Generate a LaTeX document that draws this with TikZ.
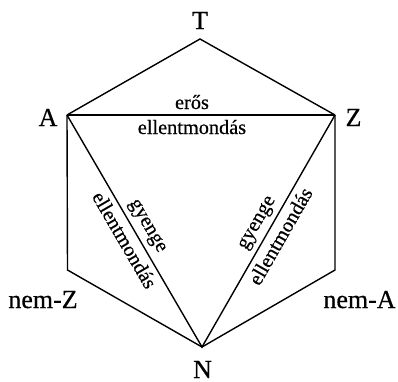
\documentclass[tikz,border=0pt]{standalone}
\usepackage{fontspec}
\setmainfont{Liberation Serif}[FakeBold=0.5]
\begin{document}
\begin{tikzpicture}[x=1pt,y=-1pt,
  edge/.style={line width=1.4pt, line join=miter},
  vlabel/.style={anchor=base, inner sep=0pt, font=\fontsize{26}{28}\selectfont},
  elabel/.style={anchor=base, inner sep=0pt, font=\fontsize{20.3}{22}\selectfont}]
\useasboundingbox (0,0) rectangle (398,381);
% vertices
\coordinate (vT) at (200,39);
\coordinate (vA) at (67,115);
\coordinate (vZ) at (335,115);
\coordinate (vnZ) at (67.5,270);
\coordinate (vnA) at (335,270);
\coordinate (vN) at (202,347);
% edges
\draw[edge] (vA) -- (vT) -- (vZ);
\draw[edge] (vA) -- (vZ);
\draw[edge] (vA) -- (vnZ) -- (vN) -- (vnA) -- (vZ);
\draw[edge] (vA) -- (vN) -- (vZ);
% vertex labels
\node[vlabel] (T) at (200,29) {T};
\node[vlabel] (A) at (48,126) {A};
\node[vlabel] (Z) at (353.5,126) {Z};
\node[vlabel] (nZ) at (43,308) {nem-Z};
\node[vlabel] (nA) at (359.5,308) {nem-A};
\node[vlabel] (N) at (202.5,378) {N};
% edge labels
\node[elabel] (e1) at (192,109) {erős};
\node[elabel] (e2) at (192,134) {ellentmondás};
\node[elabel, rotate=-59.8] (g1) at (144,228) {gyenge};
\node[elabel, rotate=-59.8] (g2) at (118.8,243.4) {ellentmondás};
\node[elabel, rotate=60.2] (g3) at (260.8,225) {gyenge};
\node[elabel, rotate=60.2] (g4) at (286.3,239.6) {ellentmondás};
\end{tikzpicture}
\end{document}
